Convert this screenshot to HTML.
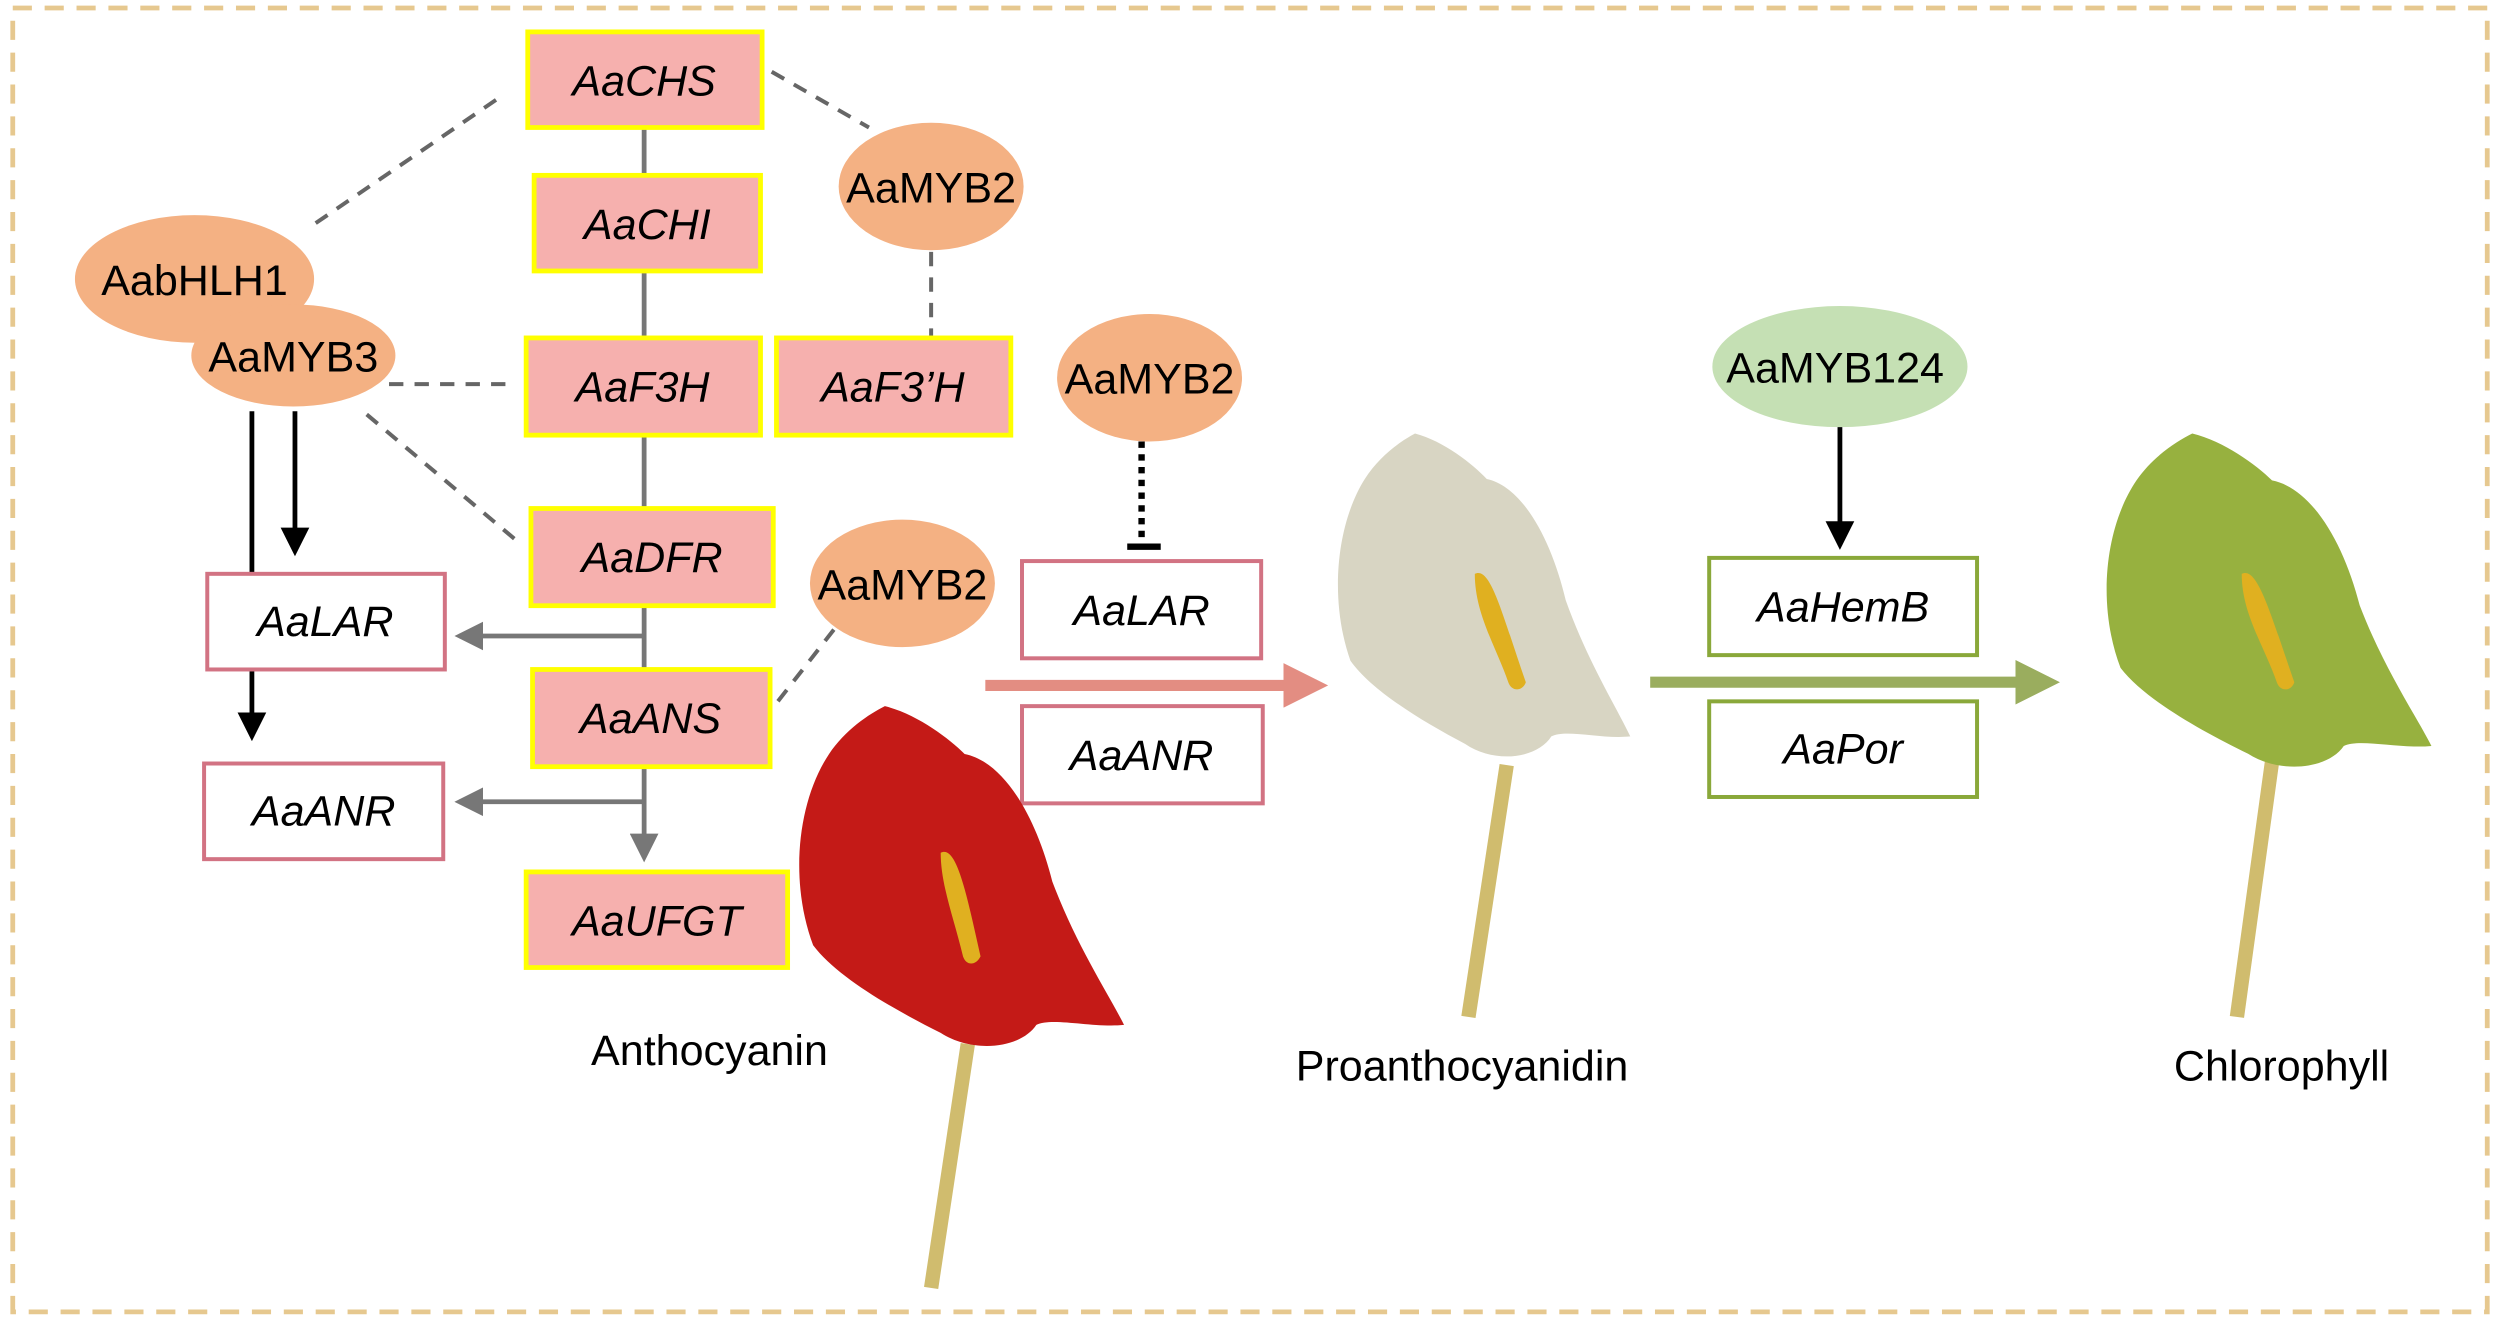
<!DOCTYPE html>
<html><head><meta charset="utf-8"><style>
html,body{margin:0;padding:0;background:#fff;}
svg{display:block;}
text{font-family:"Liberation Sans",Arial,sans-serif;}
.g{font-style:italic;font-size:27px;fill:#000;}
.t{font-size:27px;fill:#000;}
</style></head><body>
<svg width="2500" height="1323" viewBox="0 0 1568 830" preserveAspectRatio="none" xmlns="http://www.w3.org/2000/svg">
<defs>
<marker id="ag" markerWidth="6" markerHeight="6" refX="5" refY="3" orient="auto" markerUnits="strokeWidth"><path d="M0,0 L6,3 L0,6 Z" fill="#777"/></marker>
<marker id="ab" markerWidth="6" markerHeight="6" refX="5" refY="3" orient="auto" markerUnits="strokeWidth"><path d="M0,0 L6,3 L0,6 Z" fill="#000"/></marker>
<marker id="ap" markerWidth="4" markerHeight="4" refX="3" refY="2" orient="auto" markerUnits="strokeWidth"><path d="M0,0 L4,2 L0,4 Z" fill="#e38d82"/></marker>
<marker id="aG" markerWidth="4" markerHeight="4" refX="3" refY="2" orient="auto" markerUnits="strokeWidth"><path d="M0,0 L4,2 L0,4 Z" fill="#9aad5e"/></marker>
<path id="sp" d="M55,0 C75,5 95,20 105,30 C130,35 150,70 160,110 C175,150 195,180 205,200 C185,202 160,195 150,200 C140,215 110,218 90,205 C60,190 25,170 10,150 C-5,110 0,60 20,30 C30,15 45,5 55,0 Z"/>
</defs>
<rect x="8" y="5" width="1552" height="818" fill="none" stroke="#e6c88f" stroke-width="3" stroke-dasharray="12,8"/>
<line x1="404" y1="80" x2="404" y2="538" stroke="#777" stroke-width="3" marker-end="url(#ag)"/>
<line x1="404" y1="399" x2="288" y2="399" stroke="#777" stroke-width="3" marker-end="url(#ag)"/>
<line x1="404" y1="503" x2="288" y2="503" stroke="#777" stroke-width="3" marker-end="url(#ag)"/>
<g stroke="#666" stroke-width="2.5" stroke-dasharray="9,7" fill="none">
<line x1="198" y1="140" x2="315" y2="60"/>
<line x1="484" y1="45" x2="545" y2="80"/>
<line x1="584" y1="158" x2="584" y2="212"/>
<line x1="244" y1="241" x2="322" y2="241"/>
<line x1="230" y1="260" x2="325" y2="340"/>
<line x1="523" y1="395" x2="484" y2="445"/>
</g>
<line x1="158" y1="258" x2="158" y2="462" stroke="#000" stroke-width="3" marker-end="url(#ab)"/>
<line x1="185" y1="258" x2="185" y2="346" stroke="#000" stroke-width="3" marker-end="url(#ab)"/>
<g fill="#f6b0ae" stroke="#ffff00" stroke-width="3">
<rect x="331" y="20" width="147" height="60"/>
<rect x="335" y="110" width="142" height="60"/>
<rect x="330" y="212" width="147" height="61"/>
<rect x="487" y="212" width="147" height="61"/>
<rect x="333" y="319" width="152" height="61"/>
<rect x="334" y="420" width="149" height="61"/>
<rect x="330" y="547" width="164" height="60"/>
</g>
<g class="g" text-anchor="middle">
<text x="404" y="60">AaCHS</text>
<text x="406" y="150">AaCHI</text>
<text x="403" y="252">AaF3H</text>
<text x="560" y="252">AaF3’H</text>
<text x="409" y="359">AaDFR</text>
<text x="408" y="460">AaANS</text>
<text x="412" y="587">AaUFGT</text>
</g>
<g fill="#fff" stroke="#d27383" stroke-width="2.5">
<rect x="130" y="360" width="149" height="60"/>
<rect x="128" y="479" width="150" height="60"/>
<rect x="641" y="352" width="150" height="61"/>
<rect x="641" y="443" width="151" height="61"/>
</g>
<g fill="#fff" stroke="#8aa83a" stroke-width="2.5">
<rect x="1072" y="350" width="168" height="61"/>
<rect x="1072" y="440" width="168" height="60"/>
</g>
<g class="g" text-anchor="middle">
<text x="204" y="399">AaLAR</text>
<text x="203" y="518">AaANR</text>
<text x="716" y="392">AaLAR</text>
<text x="716" y="483">AaANR</text>
<text x="1156" y="390">AaHemB</text>
<text x="1156" y="479">AaPor</text>
</g>
<g fill="#f4b183">
<ellipse cx="122" cy="175" rx="75" ry="40"/>
<ellipse cx="184" cy="223" rx="64" ry="32"/>
<ellipse cx="584" cy="117" rx="58" ry="40"/>
<ellipse cx="566" cy="366" rx="58" ry="40"/>
<ellipse cx="721" cy="237" rx="58" ry="40"/>
</g>
<ellipse cx="1154" cy="230" rx="80" ry="38" fill="#c5e0b4"/>
<g class="t" text-anchor="middle">
<text x="122" y="185">AabHLH1</text>
<text x="184" y="233">AaMYB3</text>
<text x="584" y="127">AaMYB2</text>
<text x="566" y="376">AaMYB2</text>
<text x="721" y="247">AaMYB2</text>
<text x="1151" y="240">AaMYB124</text>
</g>
<line x1="716" y1="277" x2="716" y2="340" stroke="#000" stroke-width="4" stroke-dasharray="4,4"/>
<line x1="707" y1="343" x2="728" y2="343" stroke="#000" stroke-width="4"/>
<line x1="1154" y1="268" x2="1154" y2="342" stroke="#000" stroke-width="3" marker-end="url(#ab)"/>
<line x1="618" y1="430" x2="826" y2="430" stroke="#e38d82" stroke-width="7" marker-end="url(#ap)"/>
<line x1="1035" y1="428" x2="1285" y2="428" stroke="#9aad5e" stroke-width="7" marker-end="url(#aG)"/>
<line x1="607" y1="655" x2="584" y2="808" stroke="#d0bc6e" stroke-width="9"/>
<use href="#sp" transform="translate(500,443)" fill="#c41a17"/>
<path d="M590,535 C600,530 606,560 615,600 C612,606 606,606 604,600 C598,575 590,555 590,535 Z" fill="#e0b020"/>
<line x1="945" y1="480" x2="921" y2="638" stroke="#d0bc6e" stroke-width="9"/>
<use href="#sp" transform="translate(838,272) scale(0.9,0.95)" fill="#d8d5c3"/>
<path d="M925,360 C935,355 942,385 957,428 C955,434 948,434 946,428 C938,405 925,385 925,360 Z" fill="#e0b020"/>
<line x1="1425" y1="478" x2="1403" y2="638" stroke="#d0bc6e" stroke-width="9"/>
<use href="#sp" transform="translate(1320,272) scale(1,0.98)" fill="#97b13f"/>
<path d="M1406,360 C1416,355 1424,385 1439,428 C1437,434 1430,434 1428,428 C1420,405 1406,385 1406,360 Z" fill="#e0b020"/>
<g class="t" text-anchor="middle">
<text x="445" y="668">Anthocyanin</text>
<text x="917" y="678">Proanthocyanidin</text>
<text x="1431" y="678">Chlorophyll</text>
</g>
</svg>
</body></html>
